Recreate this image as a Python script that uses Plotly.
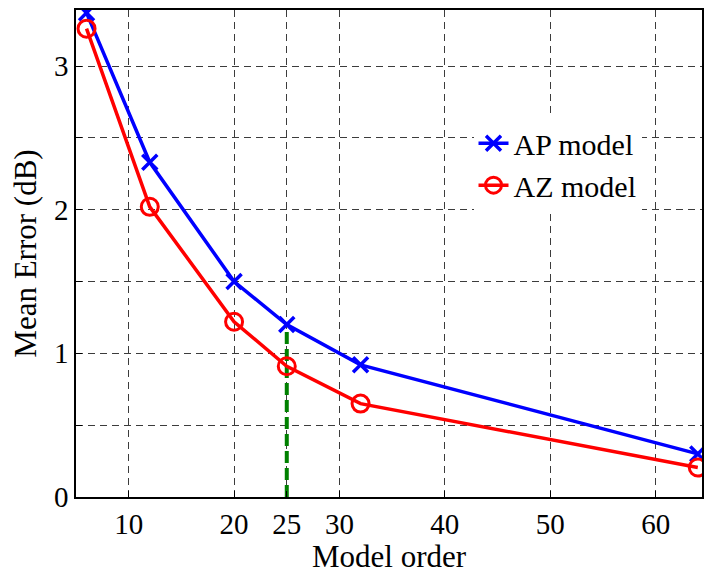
import plotly.graph_objects as go

model_order = [6, 12, 20, 25, 32, 64]
ap_error = [3.37, 2.33, 1.50, 1.20, 0.92, 0.30]
az_error = [3.26, 2.02, 1.22, 0.91, 0.65, 0.205]
selected_order = 25
x_ticks = [10, 20, 25, 30, 40, 50, 60]
y_ticks = [0, 0.5, 1, 1.5, 2, 2.5, 3]
y_tick_text = ["0", "", "1", "", "2", "", "3"]

FONT = "Liberation Serif, Times New Roman, serif"
FS = 31
TFS = 29

fig = go.Figure()

sel_idx = model_order.index(selected_order)
fig.add_trace(go.Scatter(
    x=[selected_order, selected_order], y=[0, ap_error[sel_idx]],
    mode="lines", line=dict(color="rgb(0,128,0)", width=4, dash="12px,5px"),
    showlegend=False, hoverinfo="skip"))

fig.add_trace(go.Scatter(
    x=model_order, y=ap_error, name="AP model", mode="lines+markers",
    line=dict(color="rgb(0,0,255)", width=3.5),
    marker=dict(symbol="x-thin", size=15, line=dict(color="rgb(0,0,255)", width=3.5))))

fig.add_trace(go.Scatter(
    x=model_order, y=az_error, name="AZ model", mode="lines+markers",
    line=dict(color="rgb(255,0,0)", width=3.5),
    marker=dict(symbol="circle-open", size=17, color="rgb(255,0,0)",
                line=dict(color="rgb(255,0,0)", width=3))))

axis_common = dict(
    showline=True, linecolor="black", linewidth=1.5, mirror=True,
    ticks="inside", ticklen=6, tickcolor="black",
    showgrid=True, gridcolor="rgb(60,60,60)", gridwidth=1, griddash="7px,5px",
    zeroline=False, tickfont=dict(family=FONT, size=TFS, color="black"),
)

fig.update_xaxes(
    range=[5, 64.4], tickmode="array", tickvals=x_ticks,
    title=dict(text="Model order", font=dict(family=FONT, size=FS, color="black"), standoff=2),
    **axis_common)
fig.update_yaxes(
    range=[0, 3.39], tickmode="array", tickvals=y_ticks, ticktext=y_tick_text,
    title=dict(text="Mean Error (dB)", font=dict(family=FONT, size=FS, color="black"), standoff=8),
    **axis_common)

fig.update_layout(
    width=704, height=574,
    margin=dict(l=76, r=0, t=10, b=77),
    plot_bgcolor="white", paper_bgcolor="white",
    font=dict(family=FONT, size=FS, color="black"),
    legend=dict(x=0.635, y=0.78, xanchor="left", yanchor="top",
                bgcolor="white", borderwidth=0,
                font=dict(family=FONT, size=30, color="black")),
)

fig.write_html("out.html")
